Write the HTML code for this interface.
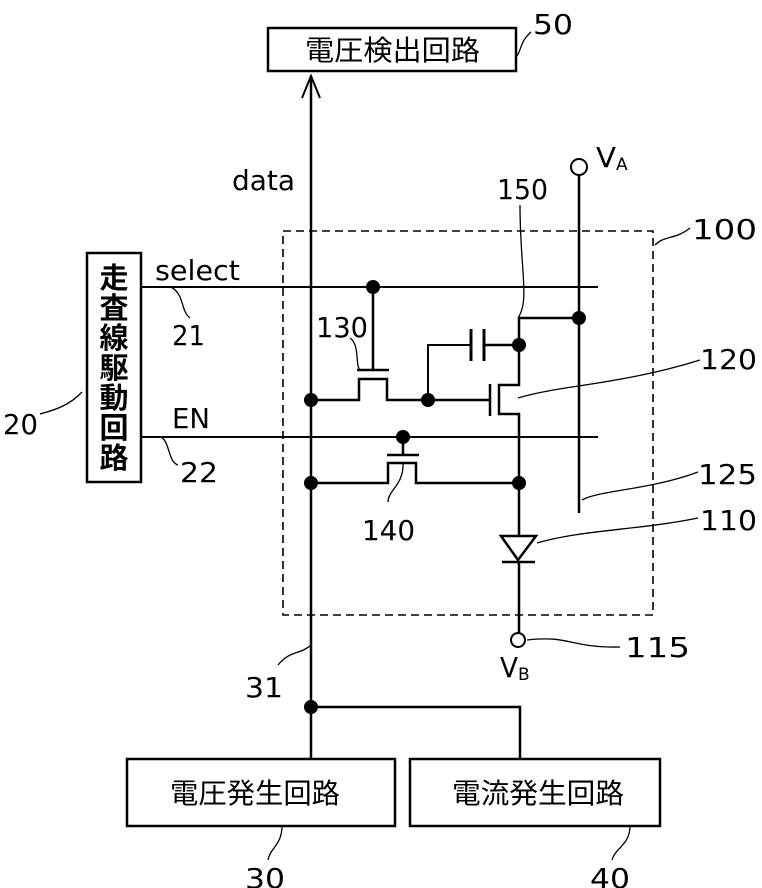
<!DOCTYPE html>
<html><head><meta charset="utf-8"><style>
html,body{margin:0;padding:0;background:#fff}
svg{display:block}
text{font-family:"DejaVu Sans","Noto Sans CJK JP",sans-serif;fill:#000}
.j{font-family:"Noto Sans CJK JP",sans-serif}
</style></head><body>
<svg width="762" height="888" viewBox="0 0 762 888" xmlns="http://www.w3.org/2000/svg">
<g fill="none" stroke="#000" stroke-width="2">
<rect x="283" y="231" width="370" height="384" stroke-dasharray="8,5" stroke-width="1.6"/>
<rect x="268" y="28" width="248" height="43" stroke-width="2.5"/>
<rect x="87" y="253" width="54" height="229" stroke-width="2.5"/>
<rect x="127" y="759" width="268" height="67" stroke-width="2.5"/>
<rect x="410" y="759" width="250" height="67" stroke-width="2.5"/>
<line x1="311" y1="76" x2="311" y2="759" stroke-width="2.5"/>
<polyline points="302,98 311,76 320,98" stroke-width="2"/>
<polyline points="311,707 520,707 520,759" stroke-width="2.5"/>
<line x1="141" y1="287" x2="598" y2="287"/>
<line x1="141" y1="437" x2="598" y2="437"/>
<line x1="579" y1="176" x2="579" y2="513" stroke-width="2.5"/>
<circle cx="579" cy="167" r="8"/>
<line x1="373" y1="287" x2="373" y2="370" stroke-width="2.5"/>
<line x1="357" y1="370" x2="389" y2="370" stroke-width="2.5"/>
<polyline points="311,400 359,400 359,379 387,379 387,400 428,400 490,400" stroke-width="2.5"/>
<polyline points="428,400 428,345 471,345"/>
<line x1="471" y1="329" x2="471" y2="361" stroke-width="3"/>
<line x1="484" y1="329" x2="484" y2="361" stroke-width="3"/>
<line x1="484" y1="345" x2="519" y2="345" stroke-width="2.5"/>
<line x1="490" y1="384" x2="490" y2="416" stroke-width="2.5"/>
<polyline points="519,318 519,385 499,385 499,414 519,414 519,536" stroke-width="2.5"/>
<line x1="519" y1="318" x2="579" y2="318" stroke-width="2.5"/>
<line x1="403" y1="437" x2="403" y2="455" stroke-width="2.5"/>
<line x1="387" y1="455" x2="419" y2="455" stroke-width="2.5"/>
<polyline points="311,483 388,483 388,463 416,463 416,483 519,483" stroke-width="2.5"/>
<polygon points="501,536 536,536 518,560" stroke-width="2.5"/>
<line x1="502" y1="562" x2="535" y2="562" stroke-width="2.5"/>
<line x1="519" y1="562" x2="519" y2="633" stroke-width="2.5"/>
<circle cx="518" cy="640" r="7"/>
<g stroke-width="1.3">
<path d="M517,56 C522,48 520,42 531,32"/>
<path d="M655,245 C665,235 675,240 690,228"/>
<path d="M518,318 C530,300 520,270 520,205"/>
<path d="M518,398 C560,385 620,385 700,360"/>
<path d="M582,500 C600,490 650,490 698,472"/>
<path d="M537,543 C580,530 640,530 698,518"/>
<path d="M527,640 C570,635 570,648 620,647"/>
<path d="M171,287 C185,295 180,310 190,318"/>
<path d="M161,437 C170,442 168,462 178,465"/>
<path d="M82,392 C70,405 55,410 40,414"/>
<path d="M350,338 C360,345 355,365 360,370"/>
<path d="M403,463 C404,485 388,490 388,502"/>
<path d="M311,645 C300,655 290,650 278,665"/>
<path d="M282,826 C282,845 270,848 268,860"/>
<path d="M630,826 C630,845 615,848 612,860"/>
</g>
</g>
<g fill="#000">
<circle cx="373" cy="287" r="7"/>
<circle cx="311" cy="400" r="7"/>
<circle cx="428" cy="400" r="7"/>
<circle cx="519" cy="345" r="7"/>
<circle cx="579" cy="318" r="7"/>
<circle cx="403" cy="437" r="7"/>
<circle cx="311" cy="483" r="7"/>
<circle cx="519" cy="483" r="7"/>
<circle cx="311" cy="707" r="7"/>
</g>
<g class="j" font-size="28">
<text class="j" x="305" y="60" textLength="175" lengthAdjust="spacingAndGlyphs">電圧検出回路</text>
<text class="j" x="170" y="803" textLength="170" lengthAdjust="spacingAndGlyphs">電圧発生回路</text>
<text class="j" x="452" y="803" textLength="172" lengthAdjust="spacingAndGlyphs">電流発生回路</text>
</g>
<g font-size="28">
<text x="533" y="34" textLength="40" lengthAdjust="spacingAndGlyphs">50</text>
<text x="232" y="190" textLength="63" lengthAdjust="spacingAndGlyphs">data</text>
<text x="497" y="199" textLength="51" lengthAdjust="spacingAndGlyphs">150</text>
<text x="596" y="167" textLength="20" lengthAdjust="spacingAndGlyphs">V</text><text x="616" y="170" font-size="17">A</text>
<text x="692" y="239" textLength="65" lengthAdjust="spacingAndGlyphs">100</text>
<text x="155" y="280" textLength="85" lengthAdjust="spacingAndGlyphs">select</text>
<text x="172" y="345" textLength="33" lengthAdjust="spacingAndGlyphs">21</text>
<text x="316" y="337" textLength="52" lengthAdjust="spacingAndGlyphs">130</text>
<text x="700" y="369" textLength="57" lengthAdjust="spacingAndGlyphs">120</text>
<text x="3" y="434" textLength="35" lengthAdjust="spacingAndGlyphs">20</text>
<text x="172" y="428" textLength="38" lengthAdjust="spacingAndGlyphs">EN</text>
<text x="180" y="482" textLength="38" lengthAdjust="spacingAndGlyphs">22</text>
<text x="698" y="484" textLength="59" lengthAdjust="spacingAndGlyphs">125</text>
<text x="700" y="530" textLength="57" lengthAdjust="spacingAndGlyphs">110</text>
<text x="362" y="540" textLength="53" lengthAdjust="spacingAndGlyphs">140</text>
<text x="625" y="657" textLength="65" lengthAdjust="spacingAndGlyphs">115</text>
<text x="500" y="677" textLength="18" lengthAdjust="spacingAndGlyphs">V</text><text x="518" y="680" font-size="17">B</text>
<text x="245" y="697" textLength="38" lengthAdjust="spacingAndGlyphs">31</text>
<text x="245" y="888" textLength="40" lengthAdjust="spacingAndGlyphs">30</text>
<text x="590" y="888" textLength="40" lengthAdjust="spacingAndGlyphs">40</text>
</g>
<g font-size="29" font-weight="bold" text-anchor="middle" class="j">
<text class="j" x="114" y="288">走</text>
<text class="j" x="114" y="318">査</text>
<text class="j" x="114" y="348">線</text>
<text class="j" x="114" y="378">駆</text>
<text class="j" x="114" y="408">動</text>
<text class="j" x="114" y="438">回</text>
<text class="j" x="114" y="468">路</text>
</g>
</svg>
</body></html>
